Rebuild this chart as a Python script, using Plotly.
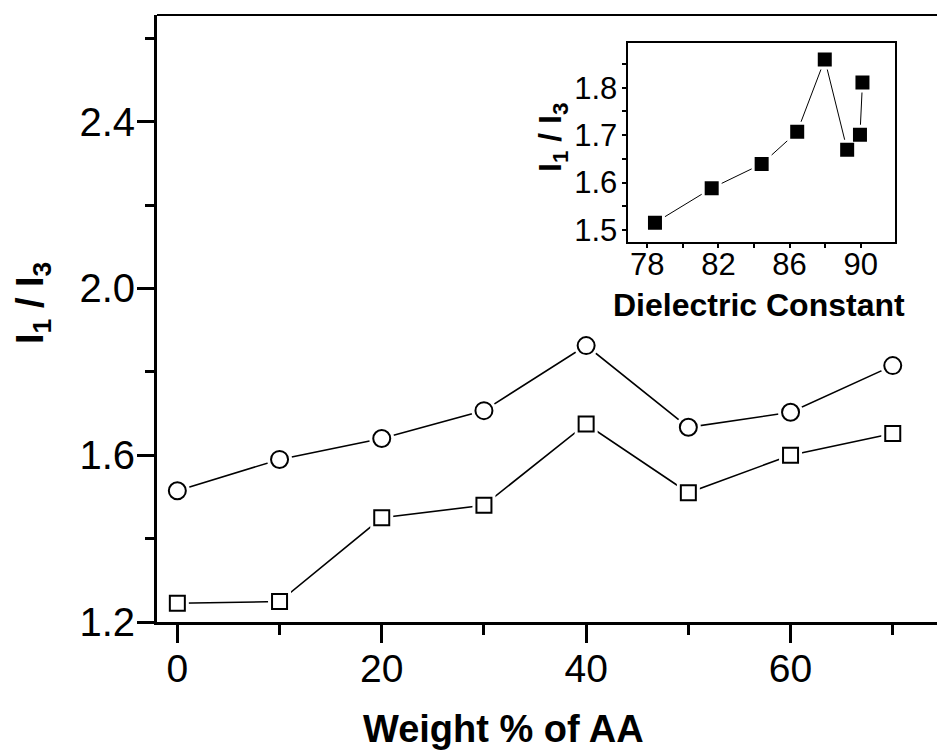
import plotly.graph_objects as go

# ---- data ----
weight_pct = [0, 10, 20, 30, 40, 50, 60, 70]
ratio_circles = [1.515, 1.590, 1.640, 1.707, 1.863, 1.667, 1.703, 1.815]
ratio_squares = [1.245, 1.249, 1.450, 1.480, 1.675, 1.510, 1.600, 1.652]

dielectric = [78.43, 81.62, 84.43, 86.43, 87.98, 89.24, 89.96, 90.10]
ratio_inset = [1.515, 1.588, 1.639, 1.707, 1.860, 1.669, 1.701, 1.811]

main_xticks = [0, 20, 40, 60]
main_xminor = [10, 30, 50, 70]
main_yticks = [1.2, 1.6, 2.0, 2.4]
main_yminor = [1.4, 1.8, 2.2, 2.6]
inset_xticks = [78, 82, 86, 90]
inset_xminor = [80, 84, 88]
inset_yticks = [1.5, 1.6, 1.7, 1.8]
inset_yminor = [1.55, 1.65, 1.75, 1.85]

FONT = "Liberation Sans, Arial, sans-serif"
W, H = 937, 751
L, R, T, B = 157, 937, 15, 622   # plot area in pixels
pw, ph = R - L, B - T

def px(x):
    return (x - L) / pw

def py(y):
    return (B - y) / ph

fig = go.Figure()

# main series: line, white halo (gap), open markers
for ys, sym, ms in [(ratio_circles, "circle", 17), (ratio_squares, "square", 15)]:
    fig.add_trace(go.Scatter(x=weight_pct, y=ys, mode="lines",
                             line=dict(color="black", width=1.6),
                             showlegend=False, hoverinfo="skip"))
    fig.add_trace(go.Scatter(x=weight_pct, y=ys, mode="markers",
                             marker=dict(symbol=sym, size=ms + 8, color="white",
                                         line=dict(width=0)),
                             showlegend=False, hoverinfo="skip"))
    fig.add_trace(go.Scatter(x=weight_pct, y=ys, mode="markers",
                             marker=dict(symbol=sym, size=ms, color="white",
                                         line=dict(color="black", width=2)),
                             showlegend=False))

# inset series
fig.add_trace(go.Scatter(x=dielectric, y=ratio_inset, mode="lines",
                         line=dict(color="black", width=1),
                         xaxis="x2", yaxis="y2", showlegend=False, hoverinfo="skip"))
fig.add_trace(go.Scatter(x=dielectric, y=ratio_inset, mode="markers",
                         marker=dict(symbol="square", size=20, color="white", line=dict(width=0)),
                         xaxis="x2", yaxis="y2", showlegend=False, hoverinfo="skip"))
fig.add_trace(go.Scatter(x=dielectric, y=ratio_inset, mode="markers",
                         marker=dict(symbol="square", size=14, color="black", line=dict(width=0)),
                         xaxis="x2", yaxis="y2", showlegend=False))

inset_dom_x = [px(628.3), px(895)]
inset_dom_y = [py(241.7), py(43.3)]

fig.update_layout(
    width=W, height=H,
    margin=dict(l=L, r=W - R, t=T, b=H - B),
    paper_bgcolor="white", plot_bgcolor="white",
    font=dict(family=FONT, color="black"),
    xaxis=dict(range=[-1.99, 74.33], showgrid=False, zeroline=False,
               showline=True, linecolor="black", linewidth=3, mirror=False,
               ticks="outside", ticklen=18, tickwidth=3, tickcolor="black",
               tickvals=main_xticks, ticktext=[str(v) for v in main_xticks],
               tickfont=dict(size=39, family=FONT), ticklabelstandoff=-8,
               minor=dict(tickvals=main_xminor, ticks="outside", ticklen=10,
                          tickwidth=3, tickcolor="black")),
    yaxis=dict(range=[1.2, 2.656], showgrid=False, zeroline=False,
               showline=True, linecolor="black", linewidth=3, mirror=False,
               ticks="outside", ticklen=17, tickwidth=3, tickcolor="black",
               tickvals=main_yticks, ticktext=["%.1f" % v for v in main_yticks],
               tickfont=dict(size=40, family=FONT), ticklabelstandoff=-6,
               minor=dict(tickvals=main_yminor, ticks="outside", ticklen=9,
                          tickwidth=3, tickcolor="black")),
    xaxis2=dict(domain=inset_dom_x, anchor="y2", range=[76.93, 91.93],
                showgrid=False, zeroline=False, showline=True, linecolor="black",
                linewidth=1.5, mirror=True, ticks="outside", ticklen=5, tickwidth=1.5,
                tickcolor="black", tickvals=inset_xticks,
                ticktext=[str(v) for v in inset_xticks],
                tickfont=dict(size=31, family=FONT), ticklabelstandoff=-11,
                minor=dict(tickvals=inset_xminor, ticks="outside", ticklen=5,
                           tickwidth=1.5, tickcolor="black")),
    yaxis2=dict(domain=inset_dom_y, anchor="x2", range=[1.475, 1.894],
                showgrid=False, zeroline=False, showline=True, linecolor="black",
                linewidth=1.5, mirror=True, ticks="outside", ticklen=5, tickwidth=1.5,
                tickcolor="black", tickvals=inset_yticks,
                ticktext=["%.1f" % v for v in inset_yticks],
                tickfont=dict(size=31, family=FONT), ticklabelstandoff=-2,
                minor=dict(tickvals=inset_yminor, ticks="outside", ticklen=5,
                           tickwidth=1.5, tickcolor="black")),
    shapes=[dict(type="line", xref="paper", yref="paper", x0=0, x1=1, y0=1, y1=1,
                 line=dict(color="black", width=2))],
    annotations=[
        dict(text="<b>Weight % of AA</b>", xref="paper", yref="paper",
             x=px(503.5), y=py(729), showarrow=False, xanchor="center", yanchor="middle",
             font=dict(size=38, family=FONT)),
        dict(text="<b>I<sub>1</sub> / I<sub>3</sub></b>", xref="paper", yref="paper",
             x=px(33), y=py(303), showarrow=False, textangle=-90,
             xanchor="center", yanchor="middle", font=dict(size=38, family=FONT)),
        dict(text="<b>Dielectric Constant</b>", xref="paper", yref="paper",
             x=px(759), y=py(305), showarrow=False, xanchor="center", yanchor="middle",
             font=dict(size=32, family=FONT)),
        dict(text="<b>I<sub>1</sub> / I<sub>3</sub></b>", xref="paper", yref="paper",
             x=px(552), y=py(138), showarrow=False, textangle=-90,
             xanchor="center", yanchor="middle", font=dict(size=32, family=FONT)),
    ],
)

fig.write_html("out.html")
